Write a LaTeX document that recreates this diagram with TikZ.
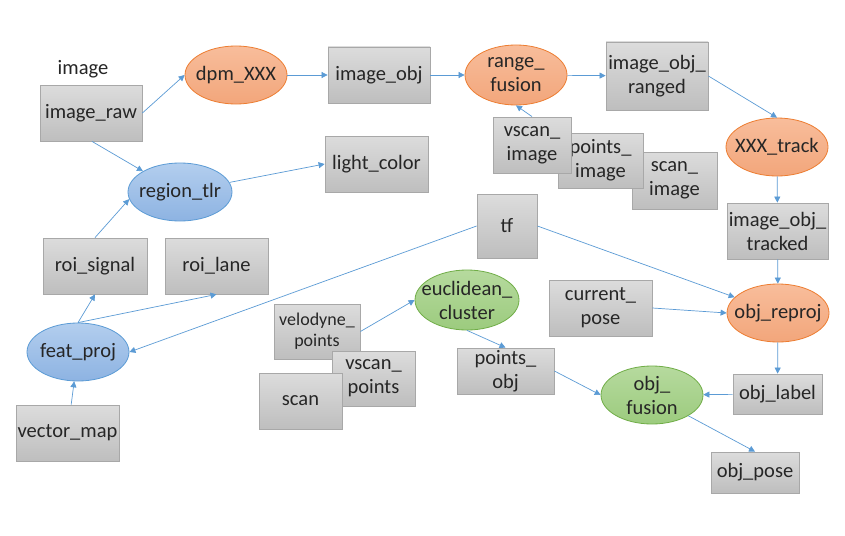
\documentclass[tikz,border=0pt]{standalone}
\usepackage{fontspec}
\setmainfont{Carlito}
\usetikzlibrary{shapes.geometric,arrows.meta}
\definecolor{boxtop}{HTML}{DCDCDC}
\definecolor{boxbot}{HTML}{BEBEBE}
\definecolor{boxline}{HTML}{A8A8A8}
\definecolor{ortop}{HTML}{F8BD9B}
\definecolor{orbot}{HTML}{F2A67B}
\definecolor{orline}{HTML}{ED7D31}
\definecolor{bltop}{HTML}{B3CEEE}
\definecolor{blbot}{HTML}{8DB3E2}
\definecolor{blline}{HTML}{5B9BD5}
\definecolor{grtop}{HTML}{B6DA9E}
\definecolor{grbot}{HTML}{9CCB7E}
\definecolor{grline}{HTML}{70AD47}
\definecolor{arrowc}{HTML}{5B9BD5}
\tikzset{
  txt/.style={font=\fontsize{20.5}{24}\selectfont, text=black!85, align=center, inner sep=0pt},
  gbox/.style={txt, rectangle, draw=boxline, line width=0.8pt, top color=boxtop, bottom color=boxbot},
  ell/.style={ellipse, inner sep=0pt, line width=0.8pt, minimum width=102pt, minimum height=58pt},
  orange/.style={ell, draw=orline, top color=ortop, bottom color=orbot},
  blue/.style={ell, draw=blline, top color=bltop, bottom color=blbot},
  green/.style={ell, draw=grline, top color=grtop, bottom color=grbot},
  conn/.style={draw=arrowc, line width=0.7pt, -{Triangle[width=6pt,length=6pt]}}
}
\newcommand{\bx}[7]{% name, x1, y1, x2, y2, text, extra
  \node[gbox, minimum width={#4-#2}, minimum height={#5-#3}, #7] (#1) at ({(#2+#4)/2},{(#3+#5)/2}) {#6};}
\newcommand{\el}[6]{% style, name, x, y, text, extra
  \node[#1, label={[txt]center:#5}, #6] (#2) at (#3,#4) {};}
\begin{document}
\begin{tikzpicture}[x=1pt,y=-1pt]
\useasboundingbox (0,0) rectangle (845,535);
\fill[white] (0,0) rectangle (845,535);
% label
\node[txt] (imglabel) at (83,69) {image};
% boxes
\bx{imageraw}{40}{85}{142}{141}{image\_raw}{}
\bx{imageobj}{328}{47}{430}{103}{image\_obj}{}
\bx{lightcolor}{325}{136}{428}{192}{light\_color}{}
\bx{ranged}{606}{42}{708}{110}{image\_obj\_\\ranged}{}
\bx{scanimage}{632}{152}{717}{209}{scan\_\\image}{}
\bx{pointsimage}{558}{133}{643}{188}{points\_\\image}{}
\bx{vscanimage}{493}{117}{571}{173}{vscan\_\\image}{}
\bx{tracked}{727}{203}{828}{259}{image\_obj\_\\tracked}{}
\bx{tf}{477}{194}{537}{258}{tf}{}
\bx{roisignal}{43}{238}{147}{294}{roi\_signal}{}
\bx{roilane}{165}{238}{268}{294}{roi\_lane}{}
\bx{vectormap}{16}{405}{119}{461}{vector\_map}{}
\bx{velodyne}{274}{304}{360}{359}{velodyne\_\\points}{font=\fontsize{18}{21}\selectfont}
\bx{vscanpoints}{332}{351}{415}{406}{vscan\_\\points}{}
\bx{scan}{259}{373}{342}{429}{scan}{}
\bx{currentpose}{549}{280}{652}{336}{current\_\\pose}{}
\bx{pointsobj}{457}{348}{554}{394}{points\_\\obj}{}
\bx{objlabel}{733}{374}{822}{414}{obj\_label}{}
\bx{objpose}{711}{452}{799}{493}{obj\_pose}{}
% ellipses
\el{orange}{dpm}{236}{75}{dpm\_XXX}{}
\el{orange}{rangefusion}{516}{75}{range\_\\fusion}{minimum height=60pt}
\el{orange}{xxxtrack}{777}{147}{XXX\_track}{}
\el{orange}{objreproj}{778}{313}{obj\_reproj}{}
\el{blue}{regiontlr}{180}{192}{region\_tlr}{minimum width=104pt}
\el{blue}{featproj}{78}{352}{feat\_proj}{}
\el{green}{euclid}{467}{300}{euclidean\_\\cluster}{minimum width=104pt, minimum height=60pt}
\el{green}{objfusion}{652}{395}{obj\_\\fusion}{}
% connectors
\draw[conn] (imageraw.east) -- (dpm.west);
\draw[conn] (imageraw.south -| 92,0) -- (regiontlr.north west);
\draw[conn] (dpm) -- (imageobj);
\draw[conn] (imageobj) -- (rangefusion);
\draw[conn] (rangefusion) -- (ranged);
\draw[conn] (vscanimage.north) -- (rangefusion.south);
\draw[conn] (ranged.east) -- (xxxtrack.north);
\draw[conn] (xxxtrack) -- (tracked);
\draw[conn] (tracked) -- (objreproj);
\draw[conn] (regiontlr) -- (lightcolor.west);
\draw[conn] (roisignal.north) -- (regiontlr.188);
\draw[conn] (featproj.north) -- (roisignal.south);
\draw[conn] (featproj.north) -- (roilane.south);
\draw[conn] (tf.west) -- (featproj.east);
\draw[conn] (tf.east) -- (objreproj.160);
\draw[conn] (velodyne.east) -- (euclid.west);
\draw[conn] (euclid.south) -- (pointsobj.north);
\draw[conn] (pointsobj.east) -- (objfusion.west);
\draw[conn] (currentpose.east) -- (objreproj.west);
\draw[conn] (objreproj) -- (objlabel);
\draw[conn] (objlabel) -- (objfusion);
\draw[conn] (objfusion.south east) -- (objpose.north);
\draw[conn] (vectormap) -- (featproj);
\end{tikzpicture}
\end{document}
